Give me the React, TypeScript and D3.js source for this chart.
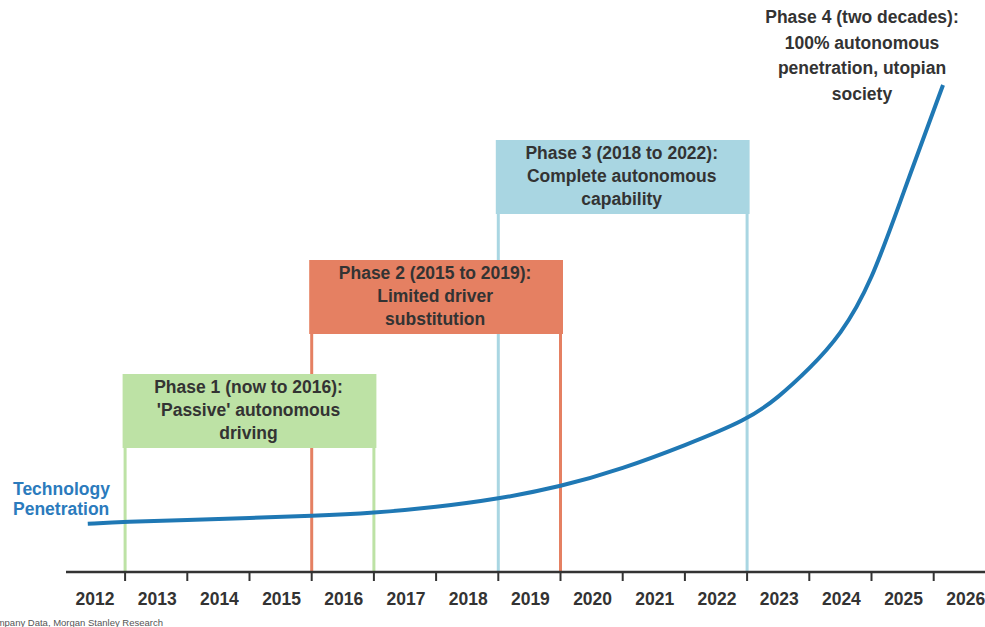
import React, { useEffect, useRef } from 'react';
import * as d3 from 'd3';

// Year labels along the axis
const years: number[] = [2012, 2013, 2014, 2015, 2016, 2017, 2018, 2019, 2020, 2021, 2022, 2023, 2024, 2025, 2026];

// Technology penetration curve (index, 0-100)
const curveYears: number[] = [
  2011.9, 2012.5, 2013.5, 2014.5, 2015.5, 2016.5, 2017.5, 2018.5, 2019.5, 2020.5, 2021.5, 2022.5, 2023.0, 2023.5,
  2024.0, 2024.5, 2025.0, 2025.65,
];
const curveValues: number[] = [
  9.9, 10.3, 10.7, 11.1, 11.5, 12.1, 13.3, 15.0, 17.5, 21.2, 26.0, 31.2, 35.8, 41.7, 48.5, 59.5, 77.5, 100,
];

// Phases (start / end on the year boundaries)
const phaseStart: number[] = [2012.5, 2015.5, 2018.5];
const phaseEnd: number[] = [2016.5, 2019.5, 2022.5];
const phaseLabels: string[][] = [
  ['Phase 1 (now to 2016):', "'Passive' autonomous", 'driving'],
  ['Phase 2 (2015 to 2019):', 'Limited driver', 'substitution'],
  ['Phase 3 (2018 to 2022):', 'Complete autonomous', 'capability'],
];
const phaseColors: string[] = ['#bde2a5', '#e58062', '#a9d6e2'];

const phase4Label: string[] = ['Phase 4 (two decades):', '100% autonomous', 'penetration, utopian', 'society'];
const seriesLabel: string[] = ['Technology', 'Penetration'];

const W = 985;
const H = 627;

const App = () => {
  const ref = useRef<SVGSVGElement | null>(null);

  useEffect(() => {
    const svg = d3.select(ref.current);
    svg.selectAll('*').remove();

    const font = 'Liberation Sans, Arial, sans-serif';
    const axisY = 572;

    // X: year centre positions
    const x = d3.scaleLinear().domain([2012, 2026]).range([94, 94 + 14 * 62.2]);
    // Y: penetration index
    const y = d3.scaleLinear().domain([0, 100]).range([axisY, 85]);

    // header layout of each phase box
    const headerTop = [374, 260, 140];
    const headerH = 74;

    // vertical phase lines
    phaseStart.forEach((s, i) => {
      [s, phaseEnd[i]].forEach((v) => {
        svg
          .append('line')
          .attr('x1', x(v))
          .attr('x2', x(v))
          .attr('y1', headerTop[i] + headerH)
          .attr('y2', axisY)
          .attr('stroke', phaseColors[i])
          .attr('stroke-width', 3);
      });
    });

    // phase headers
    phaseStart.forEach((s, i) => {
      const x0 = x(s) - 2.5;
      const x1 = x(phaseEnd[i]) + 2.5;
      svg
        .append('rect')
        .attr('x', x0)
        .attr('y', headerTop[i])
        .attr('width', x1 - x0)
        .attr('height', headerH)
        .attr('fill', phaseColors[i]);
      phaseLabels[i].forEach((t, j) => {
        svg
          .append('text')
          .attr('x', (x0 + x1) / 2 - 1)
          .attr('y', headerTop[i] + 19 + j * 23)
          .attr('text-anchor', 'middle')
          .attr('font-family', font)
          .attr('font-weight', 'bold')
          .attr('font-size', 17.5)
          .attr('fill', '#333')
          .text(t);
      });
    });

    // axis line + ticks on year boundaries
    svg
      .append('line')
      .attr('x1', 66)
      .attr('x2', W)
      .attr('y1', axisY)
      .attr('y2', axisY)
      .attr('stroke', '#333')
      .attr('stroke-width', 2.5);

    years.slice(0, -1).forEach((yr) => {
      svg
        .append('line')
        .attr('x1', x(yr + 0.5))
        .attr('x2', x(yr + 0.5))
        .attr('y1', axisY)
        .attr('y2', axisY + 9)
        .attr('stroke', '#333')
        .attr('stroke-width', 2);
    });

    svg
      .selectAll('text.year')
      .data(years)
      .enter()
      .append('text')
      .attr('class', 'year')
      .attr('x', (d) => x(d) + 1)
      .attr('y', 605)
      .attr('text-anchor', 'middle')
      .attr('font-family', font)
      .attr('font-weight', 'bold')
      .attr('font-size', 17.5)
      .attr('fill', '#333')
      .text((d) => d);

    // penetration curve (smoothed through the read points)
    const pts = curveYears.map((yr, i) => [yr, curveValues[i]] as [number, number]);
    const line = d3
      .line<[number, number]>()
      .x((d) => x(d[0]))
      .y((d) => y(d[1]))
      .curve(d3.curveBasis);

    svg
      .append('path')
      .datum(pts)
      .attr('fill', 'none')
      .attr('stroke', '#1f78b4')
      .attr('stroke-width', 4)
      .attr('stroke-linecap', 'butt')
      .attr('d', line);

    // series label
    seriesLabel.forEach((t, j) => {
      svg
        .append('text')
        .attr('x', 13)
        .attr('y', 495 + j * 20)
        .attr('font-family', font)
        .attr('font-weight', 'bold')
        .attr('font-size', 17.5)
        .attr('fill', '#2b7bbd')
        .text(t);
    });

    // phase 4 label
    phase4Label.forEach((t, j) => {
      svg
        .append('text')
        .attr('x', 862)
        .attr('y', 23 + j * 25.5)
        .attr('text-anchor', 'middle')
        .attr('font-family', font)
        .attr('font-weight', 'bold')
        .attr('font-size', 17.5)
        .attr('fill', '#333')
        .text(t);
    });

    // source (cut at the left edge, as in the original)
    svg
      .append('text')
      .attr('x', 163)
      .attr('y', 626)
      .attr('text-anchor', 'end')
      .attr('font-family', font)
      .attr('font-size', 9.5)
      .attr('fill', '#555')
      .text('Source: Company Data, Morgan Stanley Research');
  }, []);

  return (
    <svg
      ref={ref}
      width={W}
      height={H}
      style={{ position: 'absolute', left: 0, top: 0, background: '#fff' }}
    />
  );
};

export default App;
